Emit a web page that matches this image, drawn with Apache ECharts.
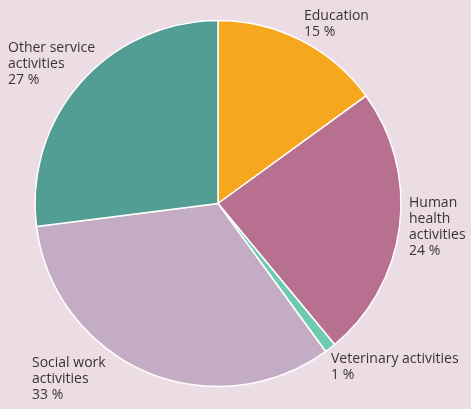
<!DOCTYPE html>
<html>
<head>
<meta charset="utf-8">
<script src="https://cdn.jsdelivr.net/npm/echarts@6/dist/echarts.min.js"></script>
<style>
  html, body { margin: 0; padding: 0; background: #ecdce4; }
  #chart { width: 471px; height: 409px; }
</style>
</head>
<body>
<div id="chart"></div>
<script>
// Employment shares by activity (per cent)
const categories = ['Education', 'Human\nhealth\nactivities', 'Veterinary activities', 'Social work\nactivities', 'Other service\nactivities'];
const shares = [15, 24, 1, 33, 27];
const colors = ['#f6a71e', '#b87090', '#6fcbad', '#c4adc4', '#529d94'];

// Top-left anchor of each label block
const labelAnchors = [
  [304, 8],
  [409, 195],
  [331, 351],
  [32, 355],
  [8, 40]
];

const chart = echarts.init(document.getElementById('chart'), null, { renderer: 'canvas' });
chart.setOption({
  backgroundColor: '#ecdce4',
  animation: false,
  series: [{
    type: 'pie',
    center: [218, 203.5],
    radius: 183,
    startAngle: 90,
    clockwise: true,
    data: categories.map((name, i) => ({
      name: name,
      value: shares[i],
      itemStyle: { color: colors[i] }
    })),
    itemStyle: { borderColor: '#ffffff', borderWidth: 1.5 },
    label: {
      show: true,
      position: 'outside',
      formatter: p => p.name + '\n' + p.value + ' %',
      fontFamily: 'Open Sans',
      fontSize: 14,
      lineHeight: 16,
      color: '#3b3437',
      overflow: 'none',
      width: 200
    },
    labelLine: { show: false },
    labelLayout: params => ({
      x: labelAnchors[params.dataIndex][0],
      y: labelAnchors[params.dataIndex][1],
      align: 'left',
      verticalAlign: 'top'
    }),
    emphasis: { disabled: true }
  }]
});
</script>
</body>
</html>
